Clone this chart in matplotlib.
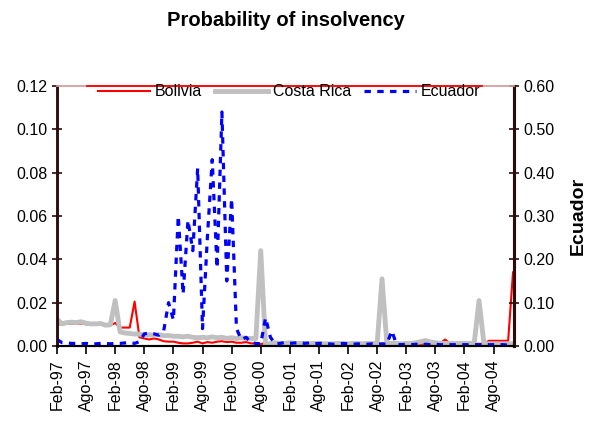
import numpy as np
import matplotlib
matplotlib.use('Agg')
import matplotlib.pyplot as plt

plt.rcParams['font.family'] = ['Liberation Sans', 'DejaVu Sans']

# Monthly data, Feb-97 to Dec-04
months = np.arange(95)
tick_labels = ['Feb-97', 'Ago-97', 'Feb-98', 'Ago-98', 'Feb-99', 'Ago-99', 'Feb-00', 'Ago-00',
               'Feb-01', 'Ago-01', 'Feb-02', 'Ago-02', 'Feb-03', 'Ago-03', 'Feb-04', 'Ago-04']

bolivia = [0.0100, 0.0100, 0.0102, 0.0104, 0.0102, 0.0104, 0.0100, 0.0098, 0.0098, 0.0100,
           0.0094, 0.0096, 0.0106, 0.0085, 0.0085, 0.0085, 0.0205, 0.0040, 0.0035, 0.0030,
           0.0035, 0.0030, 0.0022, 0.0020, 0.0020, 0.0015, 0.0012, 0.0012, 0.0015, 0.0020,
           0.0012, 0.0018, 0.0015, 0.0020, 0.0022, 0.0018, 0.0020, 0.0015, 0.0015, 0.0018,
           0.0012, 0.0012, 0.0008, 0.0015, 0.0010, 0.0010, 0.0010, 0.0010, 0.0010, 0.0010,
           0.0010, 0.0010, 0.0010, 0.0010, 0.0010, 0.0010, 0.0010, 0.0010, 0.0010, 0.0010,
           0.0010, 0.0010, 0.0010, 0.0010, 0.0010, 0.0010, 0.0010, 0.0010, 0.0010, 0.0010,
           0.0010, 0.0010, 0.0010, 0.0010, 0.0010, 0.0010, 0.0010, 0.0010, 0.0010, 0.0012,
           0.0030, 0.0012, 0.0010, 0.0010, 0.0010, 0.0010, 0.0010, 0.0010, 0.0010, 0.0024,
           0.0024, 0.0024, 0.0024, 0.0024, 0.0340]

costa_rica = [0.0125, 0.0102, 0.0108, 0.0110, 0.0108, 0.0112, 0.0105, 0.0102, 0.0102, 0.0104,
              0.0096, 0.0098, 0.0210, 0.0065, 0.0060, 0.0058, 0.0055, 0.0055, 0.0050, 0.0052,
              0.0050, 0.0052, 0.0048, 0.0048, 0.0045, 0.0045, 0.0042, 0.0045, 0.0040, 0.0038,
              0.0040, 0.0038, 0.0042, 0.0038, 0.0040, 0.0035, 0.0038, 0.0035, 0.0038, 0.0035,
              0.0035, 0.0035, 0.0440, 0.0005, 0.0012, 0.0015, 0.0012, 0.0012, 0.0015, 0.0012,
              0.0012, 0.0012, 0.0010, 0.0012, 0.0012, 0.0010, 0.0010, 0.0010, 0.0012, 0.0010,
              0.0010, 0.0012, 0.0012, 0.0010, 0.0012, 0.0012, 0.0012, 0.0310, 0.0012, 0.0012,
              0.0012, 0.0010, 0.0012, 0.0012, 0.0015, 0.0020, 0.0025, 0.0018, 0.0015, 0.0012,
              0.0012, 0.0012, 0.0012, 0.0012, 0.0012, 0.0012, 0.0012, 0.0210, 0.0012, 0.0010,
              0.0010, 0.0010, 0.0010, 0.0010, 0.0010]

ecuador = [0.015, 0.008, 0.007, 0.006, 0.006, 0.005, 0.006, 0.004, 0.005, 0.006,
           0.006, 0.005, 0.006, 0.006, 0.007, 0.008, 0.006, 0.010, 0.028, 0.030,
           0.028, 0.025, 0.035, 0.100, 0.060, 0.300, 0.120, 0.290, 0.220, 0.410,
           0.040, 0.250, 0.430, 0.180, 0.540, 0.150, 0.340, 0.040, 0.015, 0.020,
           0.008, 0.006, 0.005, 0.065, 0.020, 0.005, 0.006, 0.008, 0.006, 0.007,
           0.008, 0.006, 0.007, 0.005, 0.006, 0.006, 0.005, 0.004, 0.005, 0.006,
           0.005, 0.004, 0.005, 0.004, 0.004, 0.005, 0.004, 0.005, 0.004, 0.035,
           0.004, 0.003, 0.004, 0.003, 0.004, 0.003, 0.004, 0.003, 0.004, 0.003,
           0.003, 0.003, 0.003, 0.003, 0.003, 0.003, 0.003, 0.003, 0.003, 0.003,
           0.003, 0.003, 0.003, 0.002, 0.002]

spine_col = '#2a0c0c'

fig = plt.figure(figsize=(6.01, 4.28), dpi=100)
ax = fig.add_axes([0.0948, 0.1916, 0.7604, 0.6075])

l1, = ax.plot(months, bolivia, color='#ff0000', lw=1.5, label='Bolivia')
l2, = ax.plot(months, costa_rica, color='#c0c0c0', lw=3.5, label='Costa Rica')
ax.set_xlim(0, 94.2)
ax.set_ylim(0, 0.12)
ax.set_yticks(np.arange(0, 0.121, 0.02))
ax.set_yticklabels([f'{v:.2f}' for v in np.arange(0, 0.121, 0.02)])
ax.set_xticks(np.arange(0, 95, 6))
ax.set_xticklabels(tick_labels, rotation=90)
ax.tick_params(axis='y', direction='inout', length=7, width=1.2, labelsize=11.5, color=spine_col)
ax.tick_params(axis='x', direction='out', length=6, width=1.2, labelsize=11.5, color='black')

ax2 = ax.twinx()
l3, = ax2.plot(months, ecuador, color='#0000ff', lw=2.3, linestyle=(0, (2, 2)), label='Ecuador')
ax2.set_ylim(0, 0.60)
ax2.set_yticks(np.arange(0, 0.61, 0.1))
ax2.set_yticklabels([f'{v:.2f}' for v in np.arange(0, 0.61, 0.1)])
ax2.tick_params(axis='y', direction='inout', length=7, width=1.2, labelsize=11.5, color=spine_col)
ax2.set_ylabel('Ecuador', fontsize=14, fontweight='bold', labelpad=11)

for a in (ax, ax2):
    a.spines['left'].set_color(spine_col)
    a.spines['left'].set_linewidth(1.8)
    a.spines['right'].set_color(spine_col)
    a.spines['right'].set_linewidth(2.2)
    a.spines['bottom'].set_color('black')
    a.spines['bottom'].set_linewidth(1.5)
    a.spines['top'].set_color('#d9a6a6')
    a.spines['top'].set_linewidth(1.2)

# red top edge of the legend box
ax2.axhline(0.60, xmin=0.066, xmax=0.93, color='#ff0000', lw=1.3, clip_on=False, zorder=5)

ax2.legend(handles=[l1, l2, l3], loc='center', bbox_to_anchor=(0.508, 0.977), ncol=3,
           frameon=False, fontsize=11.5, handlelength=3.3, handletextpad=0.3,
           columnspacing=0.8, borderpad=0)

fig.suptitle('Probability of insolvency', x=0.476, y=0.975, fontsize=14.5, fontweight='bold')

fig.savefig('out.png', dpi=100)
